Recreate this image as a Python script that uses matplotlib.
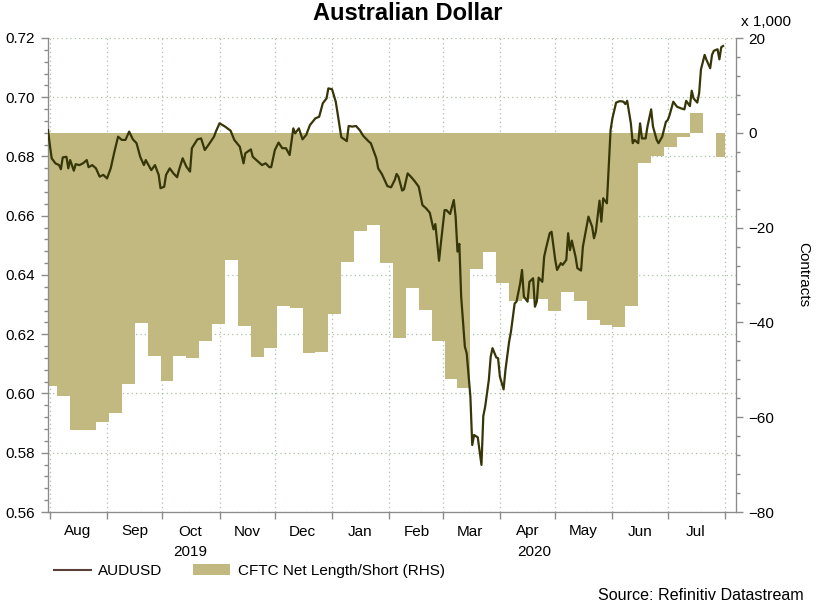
import pandas as pd
import numpy as np
import matplotlib
matplotlib.use("Agg")
import matplotlib.pyplot as plt
import matplotlib.dates as mdates
from matplotlib.ticker import MultipleLocator, FormatStrFormatter
from matplotlib.patches import Patch
from matplotlib.lines import Line2D
import matplotlib.transforms as mtrans

plt.rcParams['font.family'] = ['Liberation Sans', 'DejaVu Sans']

# AUDUSD: day offset from 2019-08-01 and spot value
aud_start = pd.Timestamp("2019-08-01")
aud_day = [-1, 0, 1, 3, 5, 6, 7, 9, 10, 11, 13, 14, 16, 18, 20, 21, 23, 25, 27, 29,
           31, 33, 35, 37, 39, 41, 43, 45, 47, 49, 51, 52, 55, 57, 59, 60, 62, 63, 65, 67,
           69, 70, 72, 74, 76, 77, 80, 82, 84, 86, 89, 90, 92, 95, 98, 100, 103, 105, 106, 109,
           110, 113, 115, 117, 119, 120, 122, 124, 126, 128, 130, 132, 133, 135, 137, 139, 141, 144, 146, 148,
           150, 151, 153, 155, 156, 158, 161, 162, 164, 166, 168, 170, 173, 174, 177, 178, 180, 183, 185, 187,
           188, 189, 191, 192, 194, 196, 198, 200, 202, 204, 206, 208, 209, 211, 212, 214, 215, 217, 219, 220,
           221, 222, 223, 225, 226, 228, 229, 230, 232, 234, 235, 236, 238, 239, 240, 242, 243, 244, 246, 247,
           249, 250, 252, 253, 255, 256, 257, 259, 260, 262, 263, 264, 265, 267, 268, 269, 271, 272, 274, 275,
           277, 278, 280, 281, 282, 283, 285, 286, 288, 289, 291, 292, 294, 295, 296, 298, 299, 300, 302, 303,
           304, 305, 307, 309, 311, 312, 313, 315, 316, 317, 319, 320, 321, 323, 324, 326, 327, 329, 330, 332,
           334, 335, 336, 338, 340, 342, 344, 345, 347, 348, 349, 351, 352, 353, 355, 356, 358, 359, 360, 362,
           363, 364, 365]
aud_val = [0.6889, 0.6839, 0.6794, 0.6777, 0.6771, 0.6757, 0.6797, 0.6799, 0.6760, 0.6788,
           0.6752, 0.6774, 0.6771, 0.6777, 0.6788, 0.6764, 0.6771, 0.6760, 0.6732, 0.6738,
           0.6726, 0.6760, 0.6816, 0.6867, 0.6856, 0.6856, 0.6884, 0.6858, 0.6845, 0.6799,
           0.6771, 0.6788, 0.6754, 0.6771, 0.6738, 0.6693, 0.6698, 0.6738, 0.6760, 0.6743,
           0.6730, 0.6754, 0.6794, 0.6766, 0.6749, 0.6828, 0.6858, 0.6861, 0.6822, 0.6839,
           0.6867, 0.6884, 0.6912, 0.6901, 0.6887, 0.6856, 0.6833, 0.6777, 0.6811, 0.6824,
           0.6799, 0.6782, 0.6771, 0.6777, 0.6764, 0.6764, 0.6822, 0.6847, 0.6828, 0.6828,
           0.6805, 0.6895, 0.6878, 0.6895, 0.6858, 0.6873, 0.6906, 0.6929, 0.6934, 0.6980,
           0.6996, 0.7030, 0.7027, 0.6985, 0.6946, 0.6865, 0.6852, 0.6903, 0.6901, 0.6903,
           0.6889, 0.6869, 0.6850, 0.6845, 0.6794, 0.6760, 0.6741, 0.6700, 0.6696, 0.6721,
           0.6741, 0.6732, 0.6685, 0.6689, 0.6743, 0.6730, 0.6715, 0.6698, 0.6636, 0.6625,
           0.6610, 0.6554, 0.6572, 0.6448, 0.6507, 0.6619, 0.6619, 0.6606, 0.6653, 0.6597,
           0.6479, 0.6505, 0.6327, 0.6158, 0.6136, 0.5989, 0.5826, 0.5860, 0.5852, 0.5759,
           0.5924, 0.5955, 0.6046, 0.6124, 0.6153, 0.6122, 0.6119, 0.6057, 0.6014, 0.6079,
           0.6175, 0.6209, 0.6304, 0.6310, 0.6372, 0.6417, 0.6327, 0.6310, 0.6377, 0.6389,
           0.6293, 0.6310, 0.6391, 0.6377, 0.6462, 0.6490, 0.6541, 0.6546, 0.6451, 0.6417,
           0.6440, 0.6434, 0.6451, 0.6541, 0.6484, 0.6516, 0.6462, 0.6423, 0.6415, 0.6496,
           0.6563, 0.6597, 0.6563, 0.6524, 0.6546, 0.6651, 0.6580, 0.6659, 0.6642, 0.6766,
           0.6889, 0.6929, 0.6982, 0.6987, 0.6985, 0.6977, 0.6988, 0.6912, 0.6845, 0.6856,
           0.6845, 0.6912, 0.6861, 0.6861, 0.6901, 0.6959, 0.6901, 0.6856, 0.6845, 0.6867,
           0.6917, 0.6923, 0.6940, 0.6985, 0.6968, 0.6963, 0.6959, 0.6988, 0.6970, 0.7022,
           0.6996, 0.6982, 0.7013, 0.7094, 0.7143, 0.7126, 0.7098, 0.7143, 0.7157, 0.7162,
           0.7128, 0.7169, 0.7173]

# CFTC net long/short, thousands of contracts, weekly
cftc_start = "2019-07-29"
cftc_val = [-53.4, -55.5, -62.8, -62.8, -61.1, -59.2, -52.9, -40.2, -47.0, -52.4,
            -47.0, -47.6, -43.9, -40.3, -26.8, -40.8, -47.2, -45.3, -36.5, -36.9,
            -46.5, -46.2, -38.3, -27.3, -20.7, -19.5, -27.5, -43.3, -32.7, -37.4,
            -43.9, -52.0, -53.9, -28.8, -25.2, -31.7, -35.4, -35.0, -35.0, -37.7,
            -33.5, -35.4, -39.5, -40.5, -40.9, -36.5, -6.4, -4.8, -2.9, -0.8,
            4.1, 0.0, -5.2]

aud_dates = aud_start + pd.to_timedelta(aud_day, unit="D")
cftc_dates = pd.date_range(cftc_start, periods=len(cftc_val), freq="7D")
# hold last weekly value until the end of the price series
cftc_x = list(cftc_dates) + [aud_dates[-1] + pd.Timedelta(days=1)]
cftc_y = cftc_val + [cftc_val[-1]]

line_col = "#363608"
area_col = "#c2b980"
grid_col = "#a9c2a9"
spine_col = "#8c8c8c"

fig = plt.figure(figsize=(8.16, 6.02), dpi=100)
ax = fig.add_axes([48 / 816, 1 - 512 / 602, 688 / 816, 474 / 602])
ax2 = ax.twinx()
ax3 = ax.twinx()
ax.set_zorder(1)
ax2.set_zorder(2)
ax3.set_zorder(3)
ax2.patch.set_visible(False)
ax3.patch.set_visible(False)

x0, x1 = pd.Timestamp("2019-07-31"), pd.Timestamp("2020-08-07")

# left axis: grid + ticks
ax.set_xlim(x0, x1)
ax.set_ylim(0.56, 0.72)
ax.yaxis.set_major_locator(MultipleLocator(0.02))
ax.yaxis.set_minor_locator(MultipleLocator(0.004))
ax.yaxis.set_major_formatter(FormatStrFormatter("%.2f"))
ax.grid(True, which="major", axis="y", color=grid_col, linestyle=(0, (1, 2.5)), lw=0.9)

ax.xaxis.set_major_locator(mdates.MonthLocator())
ax.xaxis.set_major_formatter(plt.NullFormatter())
ax.xaxis.set_minor_locator(mdates.MonthLocator(bymonthday=16))
ax.xaxis.set_minor_formatter(mdates.DateFormatter("%b"))
ax.grid(True, which="major", axis="x", color=grid_col, linestyle=(0, (1, 2.5)), lw=0.9)

ax.tick_params(axis="y", which="major", length=5, width=1, color=spine_col, labelsize=11, pad=4.5)
ax.tick_params(axis="y", which="minor", length=3, width=1, color=spine_col)
ax.tick_params(axis="x", which="major", length=5, width=1, color=spine_col)
ax.tick_params(axis="x", which="minor", length=0, labelsize=11, pad=9)

for a in (ax, ax2, ax3):
    a.spines["top"].set_visible(False)
    for s in ("left", "right", "bottom"):
        a.spines[s].set_color(spine_col)

# right axis: CFTC area
ax2.fill_between(cftc_x, cftc_y, 0, step="post", color=area_col, lw=0, zorder=1)
ax2.set_ylim(-80, 20)
ax2.yaxis.set_major_locator(MultipleLocator(20))
ax2.yaxis.set_minor_locator(MultipleLocator(4))
ax2.tick_params(axis="y", which="major", length=5, width=1, color=spine_col, labelsize=11, pad=4)
ax2.tick_params(axis="y", which="minor", length=3, width=1, color=spine_col)
ax2.set_ylabel("Contracts", rotation=-90, fontsize=11, labelpad=26)

# top layer: AUDUSD line on the same scale as the left axis
ax3.plot(aud_dates, aud_val, color=line_col, lw=1.6, zorder=3)
ax3.set_ylim(ax.get_ylim())
ax3.set_yticks([])
ax3.set_xlim(x0, x1)

# year labels centred on each year's span
trans = mtrans.blended_transform_factory(ax.transData, ax.transAxes)
for yr in (2019, 2020):
    a = max(x0, pd.Timestamp(f"{yr}-01-01"))
    b = min(x1, pd.Timestamp(f"{yr + 1}-01-01"))
    mid = a + (b - a) / 2
    ax.text(mid, -0.084, str(yr), transform=trans, ha="center", va="center", fontsize=11)

fig.text(408 / 816, 1 - 13 / 602, "Australian Dollar", ha="center", va="center",
         fontsize=17, fontweight="bold")
fig.text(741 / 816, 1 - 22 / 602, "x 1,000", ha="left", va="center", fontsize=11)
fig.text(804 / 816, 1 - 595 / 602, "Source: Refinitiv Datastream", ha="right", va="center",
         fontsize=11.6)

handles = [Line2D([], [], color="#5a4038", lw=1.5),
           Patch(facecolor=area_col, edgecolor="none")]
fig.legend(handles, ["AUDUSD", "CFTC Net Length/Short (RHS)"], loc="center left",
           bbox_to_anchor=(48 / 816, 1 - 571 / 602), ncol=2, frameon=False, fontsize=11,
           handlelength=2.4, handletextpad=0.5, columnspacing=2.0, borderaxespad=0)

fig.savefig("out.png", dpi=100)
